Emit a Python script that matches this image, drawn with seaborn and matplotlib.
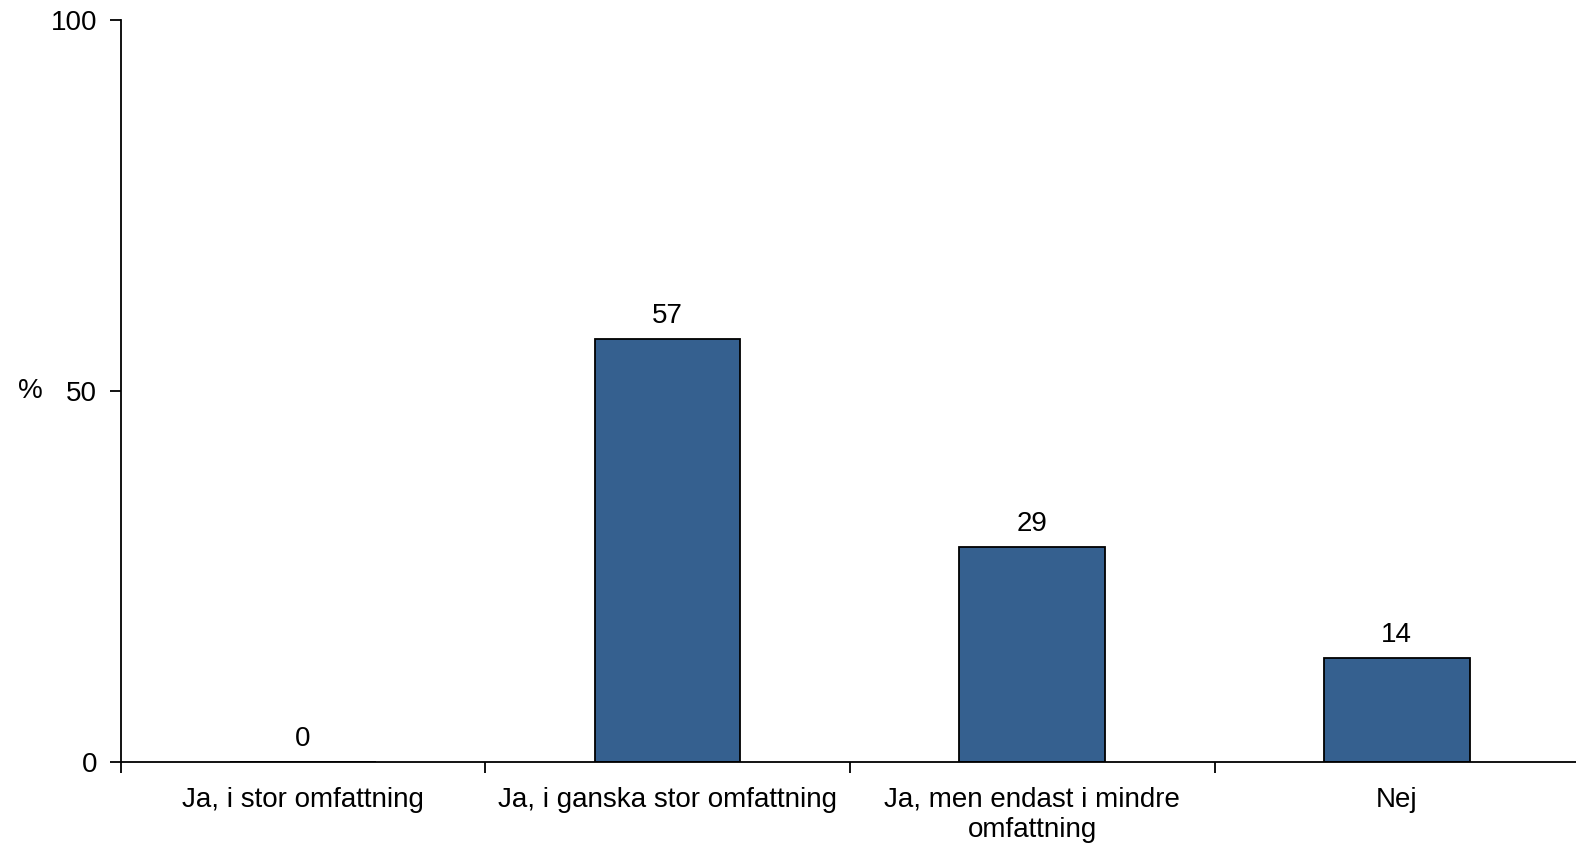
import matplotlib
matplotlib.use("Agg")
import matplotlib.pyplot as plt
import seaborn as sns
import pandas as pd

# Data.
categories = [
    "Ja, i stor omfattning",
    "Ja, i ganska stor omfattning",
    "Ja, men endast i mindre\nomfattning",
    "Nej",
]
percent = [0, 57, 29, 14]

df = pd.DataFrame({"Svar": categories, "Procent": percent})

sns.set_theme(style="white")
plt.rcParams["font.family"] = ["Liberation Sans", "DejaVu Sans"]
fs = 20

fig = plt.figure(figsize=(15.76, 8.43), dpi=100)
ax = fig.add_axes([0.0765, 0.0966, 0.9255, 0.8796])

sns.barplot(
    data=df, x="Svar", y="Procent", color="#35608F", saturation=1,
    width=0.40, edgecolor="black", linewidth=1.3, ax=ax,
)

# Value labels above the bars.
for i, v in enumerate(percent):
    ax.text(i, v + 2.1, str(v), ha="center", va="baseline", fontsize=fs, color="black")

ax.set_xlim(-0.5, 3.5)
ax.set_ylim(0, 100)
ax.set_yticks([0, 50, 100])
ax.set_xlabel("")
ax.set_ylabel("%", rotation=0, fontsize=fs, color="black", ha="center", va="center")
ax.yaxis.set_label_coords(-0.062, 0.5)

# Category labels centred, tick marks at the category boundaries.
ax.set_xticks(range(len(categories)))
ax.set_xticklabels(categories, fontsize=fs, color="black")
ax.set_xticks([-0.5, 0.5, 1.5, 2.5, 3.5], minor=True)
ax.tick_params(axis="x", which="major", length=0, pad=18)
ax.tick_params(axis="x", which="minor", length=8, width=1.3, color="black", direction="out", bottom=True)
ax.tick_params(axis="y", length=8, width=1.3, color="black", direction="out", left=True, labelsize=fs, labelcolor="black", pad=9)

for side in ["top", "right"]:
    ax.spines[side].set_visible(False)
for side in ["left", "bottom"]:
    ax.spines[side].set_color("black")
    ax.spines[side].set_linewidth(1.3)

fig.savefig("out.png", dpi=100)
